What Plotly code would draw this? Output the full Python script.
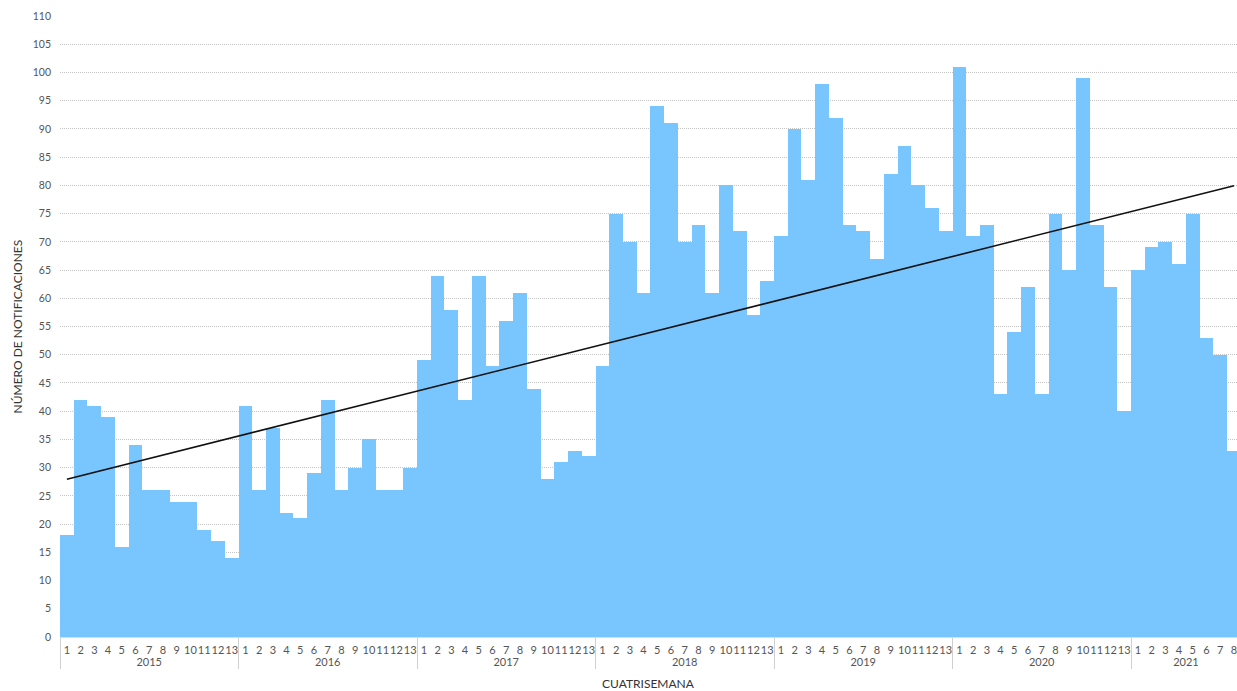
import numpy as np
import plotly.graph_objects as go

years = ["2015", "2016", "2017", "2018", "2019", "2020", "2021"]
v2015 = [18, 42, 41, 39, 16, 34, 26, 26, 24, 24, 19, 17, 14]
v2016 = [41, 26, 37, 22, 21, 29, 42, 26, 30, 35, 26, 26, 30]
v2017 = [49, 64, 58, 42, 64, 48, 56, 61, 44, 28, 31, 33, 32]
v2018 = [48, 75, 70, 61, 94, 91, 70, 73, 61, 80, 72, 57, 63]
v2019 = [71, 90, 81, 98, 92, 73, 72, 67, 82, 87, 80, 76, 72]
v2020 = [101, 71, 73, 43, 54, 62, 43, 75, 65, 99, 73, 62, 40]
v2021 = [65, 69, 70, 66, 75, 53, 50, 33]
series = [v2015, v2016, v2017, v2018, v2019, v2020, v2021]

xy, xp, vals = [], [], []
for y, s in zip(years, series):
    for i, v in enumerate(s):
        xy.append(y)
        xp.append(str(i + 1))
        vals.append(v)

idx = np.arange(len(vals))
slope, intercept = np.polyfit(idx, vals, 1)
trend = intercept + slope * idx

FONT = "Lato"
TXT = "#555555"

fig = go.Figure()
fig.add_trace(go.Bar(
    x=[xy, xp], y=vals,
    marker=dict(color="#79C5FD", line=dict(width=0)),
    showlegend=False, hoverinfo="y",
))
fig.add_trace(go.Scatter(
    x=[xy, xp], y=trend, mode="lines",
    line=dict(color="#111111", width=1.6), showlegend=False, hoverinfo="skip",
))

fig.update_layout(
    width=1237, height=691,
    margin=dict(l=60, r=0, t=16, b=54),
    plot_bgcolor="white", paper_bgcolor="white",
    bargap=0,
    font=dict(family=FONT, size=11, color=TXT),
    xaxis=dict(
        type="multicategory",
        range=[-0.5, 85.22],
        showgrid=False,
        showline=True, linecolor="#dddddd", linewidth=1,
        ticks="", tickangle=0,
        ticklabelstandoff=3,
        tickfont=dict(family=FONT, size=11, color=TXT),
        showdividers=True, dividercolor="#d0d0d0", dividerwidth=1,
        automargin=False,
    ),
    yaxis=dict(
        range=[0, 110], dtick=5, tick0=0,
        showgrid=True, gridcolor="#c4c4c4", griddash="1px,1px", gridwidth=1,
        zeroline=False, showline=False, ticks="",
        ticklabelstandoff=8,
        tickfont=dict(family=FONT, size=10.5, color=TXT),
        automargin=False,
    ),
    annotations=[
        dict(text="NÚMERO DE NOTIFICACIONES", textangle=-90, xref="paper", yref="paper",
             x=(17 - 60) / 1177, y=0.5, xanchor="center", yanchor="middle", showarrow=False,
             font=dict(family=FONT, size=12, color="#333333")),
        dict(text="CUATRISEMANA", xref="paper", yref="paper",
             x=(648 - 60) / 1177, y=-(684 - 637) / 621, xanchor="center", yanchor="middle",
             showarrow=False, font=dict(family=FONT, size=12, color="#333333")),
    ],
)

fig.write_html("out.html", config={"displayModeBar": False},
               post_script="document.body.style.margin='0';document.body.style.padding='0';")
